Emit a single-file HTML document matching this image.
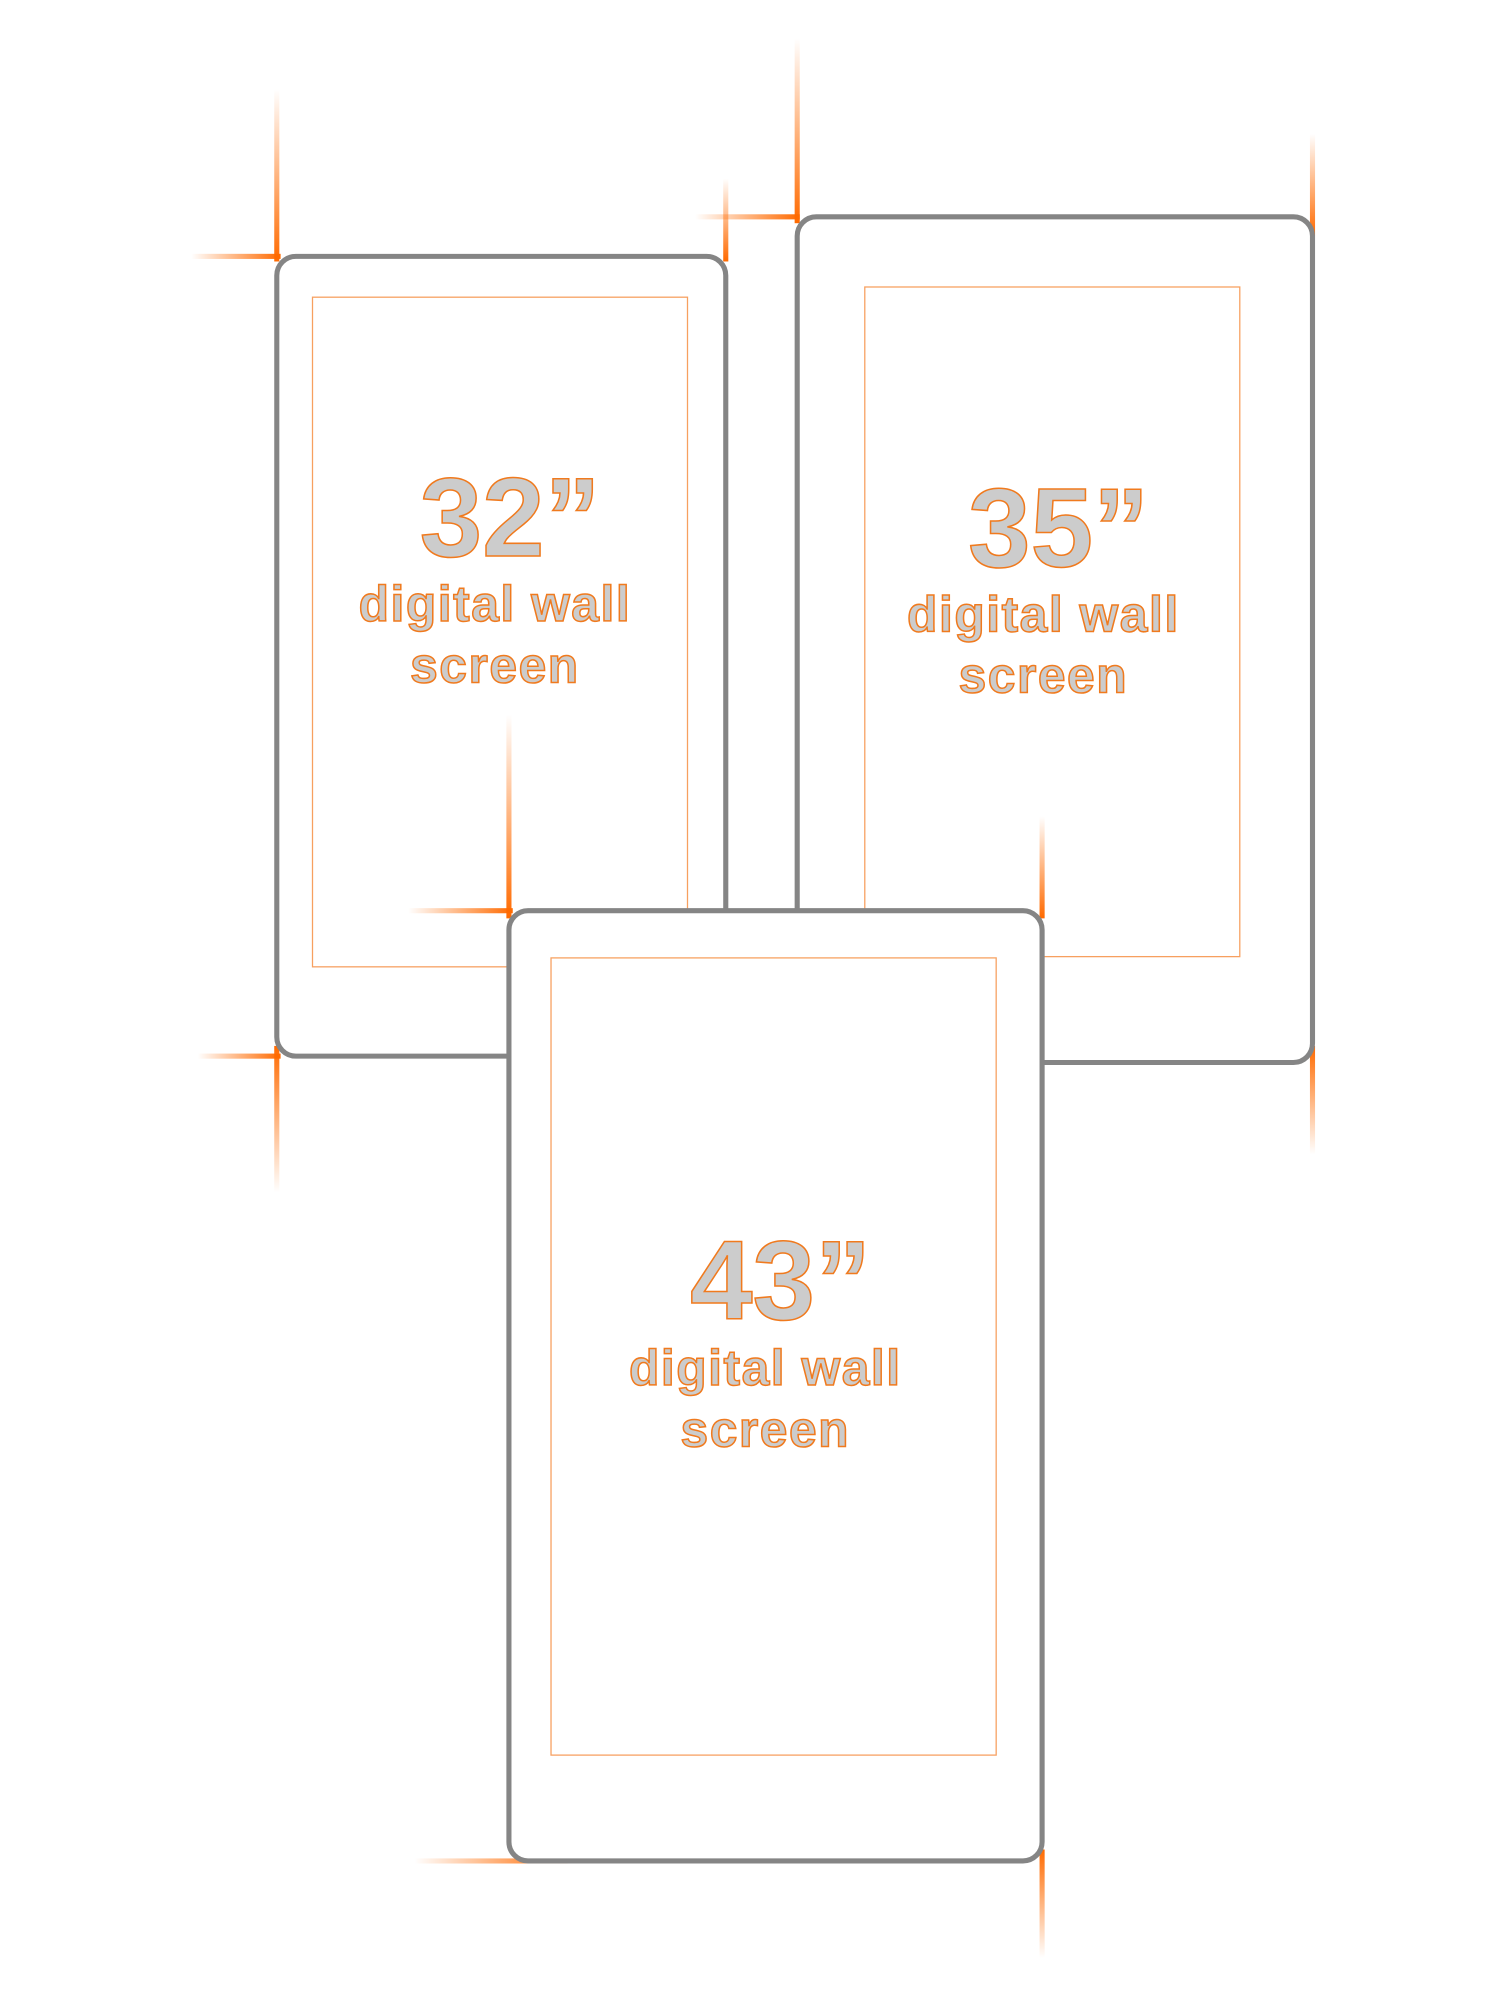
<!DOCTYPE html>
<html><head><meta charset="utf-8"><style>
html,body{margin:0;padding:0;background:#fff;}
svg{display:block;}
text{font-family:"Liberation Sans",sans-serif;font-weight:bold;fill:#cccccc;stroke:#f07a1e;stroke-width:1.2;text-anchor:middle;}
.s{letter-spacing:1.2px;}
</style></head><body>
<svg width="1500" height="2000" viewBox="0 0 1176 1568" xmlns="http://www.w3.org/2000/svg">
<defs>
<linearGradient id="gu" x1="0" y1="1" x2="0" y2="0"><stop offset="0" stop-color="#ff6a00"/><stop offset="1" stop-color="#ff6a00" stop-opacity="0"/></linearGradient>
<linearGradient id="gd" x1="0" y1="0" x2="0" y2="1"><stop offset="0" stop-color="#ff6a00"/><stop offset="1" stop-color="#ff6a00" stop-opacity="0"/></linearGradient>
<linearGradient id="gl" x1="1" y1="0" x2="0" y2="0"><stop offset="0" stop-color="#ff6a00"/><stop offset="1" stop-color="#ff6a00" stop-opacity="0"/></linearGradient>
</defs>
<!-- orange crosshair lines -->
<rect x="215" y="70" width="4" height="135" fill="url(#gu)"/>
<rect x="150" y="199" width="70" height="4" fill="url(#gl)"/>
<rect x="567" y="140" width="4" height="65" fill="url(#gu)"/>
<rect x="545" y="168" width="82" height="4" fill="url(#gl)"/>
<rect x="623" y="30" width="4" height="145" fill="url(#gu)"/>
<rect x="1027" y="105" width="4" height="80" fill="url(#gu)"/>
<rect x="1027" y="820" width="4" height="85" fill="url(#gd)"/>
<rect x="155" y="826" width="65" height="4" fill="url(#gl)"/>
<rect x="215" y="820" width="4" height="115" fill="url(#gd)"/>
<rect x="325" y="1457" width="120" height="4" fill="url(#gl)"/>
<rect x="815" y="1450" width="4" height="85" fill="url(#gd)"/>

<!-- 32 -->
<rect x="217" y="201" width="352" height="627" rx="15" fill="#fff" stroke="#858585" stroke-width="4"/>
<rect x="245" y="233" width="294" height="525" fill="none" stroke="#f7a060" stroke-width="1"/>
<text x="400" y="436" font-size="88">32”</text>
<text class="s" x="388" y="487" font-size="39">digital wall</text>
<text class="s" x="388" y="535" font-size="39">screen</text>

<!-- 35 -->
<rect x="625" y="170" width="404" height="663" rx="15" fill="#fff" stroke="#858585" stroke-width="4"/>
<rect x="678" y="225" width="294" height="525" fill="none" stroke="#f7a060" stroke-width="1"/>
<text x="830" y="444" font-size="88">35”</text>
<text class="s" x="818" y="495" font-size="39">digital wall</text>
<text class="s" x="818" y="543" font-size="39">screen</text>

<!-- lines over boxes -->
<rect x="397" y="560" width="4" height="160" fill="url(#gu)"/>
<rect x="320" y="712" width="82" height="4" fill="url(#gl)"/>
<rect x="815" y="640" width="4" height="80" fill="url(#gu)"/>

<!-- 43 -->
<rect x="399" y="714" width="418" height="745" rx="15" fill="#fff" stroke="#858585" stroke-width="4"/>
<rect x="432" y="751" width="349" height="625" fill="none" stroke="#f7a060" stroke-width="1"/>
<text x="612" y="1034" font-size="88">43”</text>
<text class="s" x="600" y="1086" font-size="39">digital wall</text>
<text class="s" x="600" y="1134" font-size="39">screen</text>
</svg>
</body></html>
